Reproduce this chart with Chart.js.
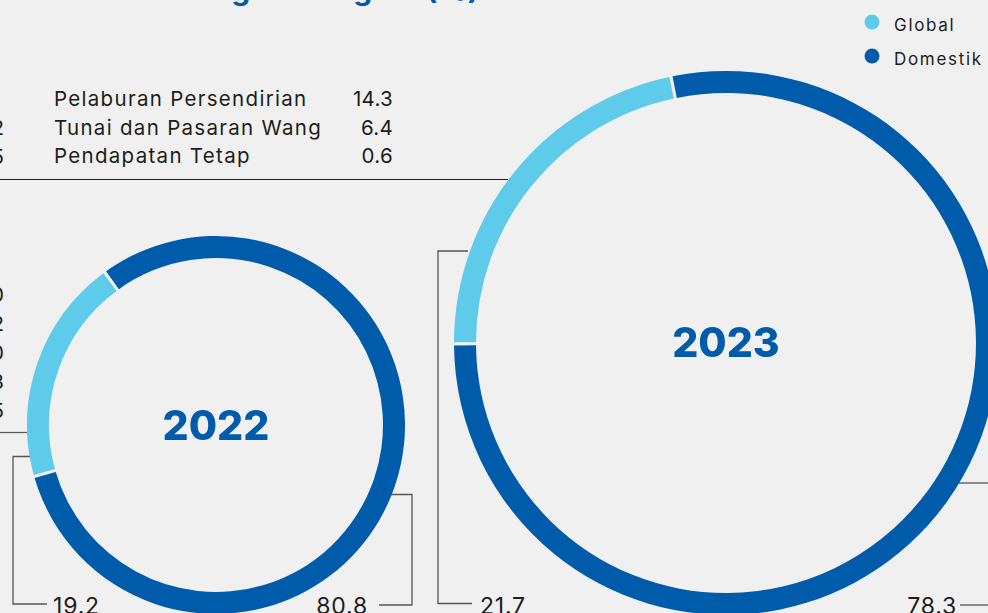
<!DOCTYPE html>
<html lang="ms">
<head>
<meta charset="UTF-8">
<title>Domestik dan Global</title>
<script src="https://cdn.jsdelivr.net/npm/chart.js"></script>
<style>
  html, body { margin: 0; padding: 0; background: #f0f0f0; overflow: hidden; }
  #page { position: relative; width: 988px; height: 613px; overflow: hidden; font-family: Inter, "Noto Sans", sans-serif; }
  canvas { position: absolute; }
  #overlay { position: absolute; left: 0; top: 0; }
</style>
</head>
<body>
<div id="page">
  <svg id="overlay" width="988" height="613"></svg>
  <canvas id="c2022" width="378" height="378" style="left:27px; top:236px;"></canvas>
  <canvas id="c2023" width="544" height="544" style="left:454px; top:71px;"></canvas>
</div>
<script>
  // data
  const years = ['2022', '2023'];
  const categories = ['Global', 'Domestik'];
  const colours = ['#5ecbea', '#005bab'];
  const share2022 = [19.2, 80.8];
  const share2023 = [21.7, 78.3];
  const assetLabels = ['Pelaburan Persendirian', 'Tunai dan Pasaran Wang', 'Pendapatan Tetap'];
  const assetValues = [14.3, 6.4, 0.6];
  // last digits of the table cut off at the left edge
  const cutTop = ['2', '5'];
  const cutLower = ['0', '2', '0', '3', '5'];

  const svg = document.getElementById('overlay');
  const NS = 'http://www.w3.org/2000/svg';
  function add(tag, attrs, text) {
    const el = document.createElementNS(NS, tag);
    for (const k in attrs) el.setAttribute(k, attrs[k]);
    if (text !== undefined) el.textContent = text;
    svg.appendChild(el);
    return el;
  }
  const ink = '#1d1d1b';

  // title, mostly above the picture
  add('text', { x: 479, y: 0, 'text-anchor': 'end', 'font-size': 30, 'font-weight': 700, fill: '#005bab' },
      'Peruntukan Aset Mengikut Negara (%)');

  // table
  assetLabels.forEach((lab, i) => {
    const y = 106 + i * 28.5;
    add('text', { x: 54, y: y, 'font-size': 20.5, fill: ink, 'letter-spacing': 1.3 }, lab);
    add('text', { x: 393, y: y, 'font-size': 20.5, fill: ink, 'text-anchor': 'end', 'letter-spacing': 0.3 }, assetValues[i].toFixed(1));
  });
  cutTop.forEach((t, i) => {
    add('text', { x: 4, y: 135 + i * 28.5, 'font-size': 20.5, fill: ink, 'text-anchor': 'end' }, t);
  });
  cutLower.forEach((t, i) => {
    add('text', { x: 4, y: 302 + i * 29, 'font-size': 20.5, fill: ink, 'text-anchor': 'end' }, t);
  });

  // rules and leader lines
  add('path', { d: 'M0 179.5 H508', stroke: ink, 'stroke-width': 1.2, fill: 'none' });
  add('path', { d: 'M0 432.5 H28', stroke: '#555', 'stroke-width': 1.2, fill: 'none' });
  add('path', { d: 'M31 456.5 H13 V604 H47', stroke: '#555', 'stroke-width': 1.3, fill: 'none' });
  add('path', { d: 'M391 494.5 H412 V605 H379', stroke: '#555', 'stroke-width': 1.3, fill: 'none' });
  add('path', { d: 'M468 251 H438 V603.5 H472', stroke: '#555', 'stroke-width': 1.3, fill: 'none' });
  add('path', { d: 'M958 483 H988', stroke: '#555', 'stroke-width': 1.3, fill: 'none' });
  add('path', { d: 'M960 605 H988', stroke: '#555', 'stroke-width': 1.3, fill: 'none' });

  // value labels
  const lab = { 'font-size': 23, fill: ink, 'letter-spacing': 0.8 };
  add('text', Object.assign({ x: 53, y: 614 }, lab), share2022[0].toFixed(1));
  add('text', Object.assign({ x: 368, y: 614, 'text-anchor': 'end' }, lab), share2022[1].toFixed(1));
  add('text', Object.assign({ x: 480, y: 614 }, lab), share2023[0].toFixed(1));
  add('text', Object.assign({ x: 957, y: 614, 'text-anchor': 'end' }, lab), share2023[1].toFixed(1));

  // legend
  categories.forEach((c, i) => {
    add('circle', { cx: 872, cy: 22 + i * 34, r: 7.5, fill: colours[i] });
    add('text', { x: 894, y: 31 + i * 34, 'font-size': 17, fill: ink, 'letter-spacing': 1.7 }, c);
  });

  // year in the middle of each ring
  const centerText = {
    id: 'centerText',
    afterDraw(chart, args, opts) {
      const arc = chart.getDatasetMeta(0).data[0];
      const c = chart.ctx;
      c.save();
      c.font = '800 41px Inter, "Noto Sans", sans-serif';
      c.fillStyle = '#005bab';
      c.textAlign = 'center';
      c.textBaseline = 'middle';
      c.fillText(opts.text, arc.x, arc.y + opts.dy);
      c.restore();
    }
  };

  function ring(id, values, year, rotation, cutout, dy) {
    return new Chart(document.getElementById(id), {
      type: 'doughnut',
      plugins: [centerText],
      data: {
        labels: categories,
        datasets: [{
          data: values,
          backgroundColor: colours,
          borderWidth: 0
        }]
      },
      options: {
        responsive: false,
        animation: false,
        rotation: rotation,
        cutout: cutout,
        spacing: 2,
        layout: { padding: 0 },
        plugins: {
          legend: { display: false },
          tooltip: { enabled: false },
          centerText: { text: year, dy: dy }
        }
      }
    });
  }

  ring('c2022', share2022, years[0], 254.5, 166, 3);
  ring('c2023', share2023, years[1], 270, 249, 2);
</script>
</body>
</html>
